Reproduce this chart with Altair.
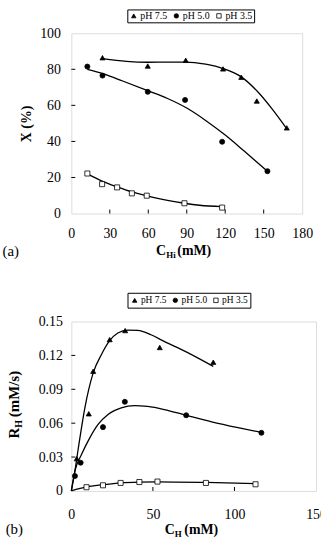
import altair as alt
import pandas as pd

FONT = "Liberation Serif"
SERIES = ["pH 7.5", "pH 5.0", "pH 3.5"]
SHAPES = ["triangle-up", "circle", "square"]
FILLS = ["black", "black", "white"]

# ---------------- panel (a): conversion X (%) vs C_Hi (mM) ----------------
a_x75 = [24.3, 59.6, 89.2, 118.3, 132.5, 144.6, 168]
a_y75 = [86.4, 81.8, 85.0, 80.2, 75.6, 62.4, 47.5]
a_x50 = [12.5, 24.3, 59.6, 88.7, 117.6, 152.9]
a_y50 = [81.5, 76.5, 67.5, 63.0, 39.8, 23.5]
a_x35 = [12.5, 24.0, 35.7, 47.2, 58.8, 88.2, 117.6]
a_y35 = [22.2, 16.3, 14.5, 11.2, 9.9, 5.7, 3.3]

a_fit75_x = [24.3, 42.9, 59.6, 76.4, 89.2, 104.7, 118.3, 132.5, 145.9, 156.2, 168]
a_fit75_y = [85.9, 84.4, 83.9, 84.0, 84.0, 82.8, 80.4, 75.8, 67.1, 58.3, 47.0]
a_fit50_x = [12.5, 25, 40, 60, 75, 90, 105, 120, 135, 152.9]
a_fit50_y = [80.0, 77.5, 73.5, 68.0, 63.8, 58.5, 51.5, 43.5, 34.5, 23.5]
a_fit35_x = [12.5, 24, 35.7, 47.2, 58.8, 75, 88.2, 100, 117.6]
a_fit35_y = [22.0, 18.0, 14.8, 12.0, 9.8, 7.3, 5.7, 4.6, 3.8]

a_xlabels = [0, 30, 60, 90, 120, 150, 180]
a_ylabels = [0, 20, 40, 60, 80, 100]
a_xticks = [30, 60, 90, 120, 150]
a_yticks = [20, 40, 60, 80]

# ---------------- panel (b): rate R_H (mM/s) vs C_H (mM) ----------------
b_x75 = [3.3, 10.7, 13.4, 23.5, 33.0, 54.2, 87.0]
b_y75 = [0.0286, 0.0683, 0.106, 0.134, 0.142, 0.127, 0.114]
b_x50 = [2.2, 5.7, 19.4, 32.8, 70.4, 116.5]
b_y50 = [0.0132, 0.025, 0.0565, 0.0789, 0.067, 0.0515]
b_x35 = [9.3, 19.4, 30.2, 41.7, 52.8, 82.5, 112.9]
b_y35 = [0.0033, 0.005, 0.0071, 0.0079, 0.0083, 0.0071, 0.0059]

b_fit75_x = [0, 2.0, 4.3, 8.3, 13.4, 18.4, 23.5, 28.5, 34.6, 40.7, 48.8, 56.9, 69.8, 87.0]
b_fit75_y = [0, 0.016, 0.038, 0.0736, 0.1045, 0.1206, 0.133, 0.1398, 0.1424, 0.1421, 0.1383, 0.1324, 0.1236, 0.1103]
b_fit50_x = [0, 2.2, 6.3, 11.3, 16.4, 22.5, 30.6, 38.7, 46.7, 56.9, 70.4, 86.0, 102.2, 116.5]
b_fit50_y = [0, 0.0177, 0.0324, 0.047, 0.0589, 0.0677, 0.0736, 0.0756, 0.0748, 0.0721, 0.067, 0.0612, 0.056, 0.0518]
b_fit35_x = [0, 9.3, 19.4, 30.2, 41.7, 52.8, 82.5, 112.9]
b_fit35_y = [0, 0.0035, 0.0055, 0.0072, 0.0079, 0.0081, 0.0075, 0.0064]

b_xlabels = [0, 50, 100, 150]
b_ylabels = [0, 0.03, 0.06, 0.09, 0.12, 0.15]
b_xticks = [50, 100]
b_yticks = [0.03, 0.06, 0.09, 0.12]


def frame(xs_list, ys_list):
    rows = []
    for s, xs, ys in zip(SERIES, xs_list, ys_list):
        for x, y in zip(xs, ys):
            rows.append({"s": s, "x": x, "y": y})
    return pd.DataFrame(rows)


ONE = pd.DataFrame({"k": [0]})


def label(txt, x, y, size=14, bold=True, angle=0):
    kw = dict(text=txt, font=FONT, fontSize=size, align="left",
              baseline="alphabetic", color="black")
    if bold:
        kw["fontWeight"] = "bold"
    if angle:
        kw["angle"] = angle
    return alt.Chart(ONE).mark_text(**kw).encode(x=alt.value(x), y=alt.value(y))


def panel(pts, fits, W, H, xdom, ydom, xlabels, ylabels, xticks, yticks,
          yfmt, ytitle, lx, ly, lfont, lpad, extras, xlabpad, ylabpad):
    xs = alt.Scale(domain=xdom, nice=False, zero=False)
    ys = alt.Scale(domain=ydom, nice=False, zero=False)
    xaxis = alt.Axis(values=xlabels, title=None, labelPadding=xlabpad,
                     format="d", labelFlush=False, labelOverlap=False)
    if ytitle:
        yaxis = alt.Axis(values=ylabels, title=ytitle, labelPadding=ylabpad,
                         format=yfmt, labelFlush=False, labelOverlap=False,
                         titlePadding=6)
    else:
        yaxis = alt.Axis(values=ylabels, title=None, labelPadding=ylabpad,
                         format=yfmt, labelFlush=False, labelOverlap=False)
    leg = alt.Legend(title=None, orient="none", legendX=lx, legendY=ly,
                     direction="horizontal", strokeColor="black", fillColor="white",
                     padding=lpad, labelFont=FONT, labelFontSize=lfont,
                     labelColor="black", symbolSize=20, symbolStrokeWidth=0.8,
                     columnPadding=4, labelOffset=1.5)
    X = alt.X("x:Q", scale=xs, axis=xaxis)
    Y = alt.Y("y:Q", scale=ys, axis=yaxis)
    lines = alt.Chart(fits).mark_line(color="black", strokeWidth=1.3,
                                      interpolate="monotone").encode(
        x=X, y=Y, detail="s:N")
    points = alt.Chart(pts).mark_point(filled=True, strokeWidth=0.8,
                                       opacity=1).encode(
        x=X, y=Y,
        shape=alt.Shape("s:N", scale=alt.Scale(domain=SERIES, range=SHAPES), legend=leg),
        fill=alt.Fill("s:N", scale=alt.Scale(domain=SERIES, range=FILLS), legend=leg),
        stroke=alt.Stroke("s:N", scale=alt.Scale(domain=SERIES, range=["black"] * 3), legend=leg),
        size=alt.value(26))
    xt = alt.Chart(pd.DataFrame({"x": xticks})).mark_rule(color="black", strokeWidth=1).encode(
        x=X, y=alt.value(H), y2=alt.value(H - 4))
    yt = alt.Chart(pd.DataFrame({"y": yticks})).mark_rule(color="black", strokeWidth=1).encode(
        y=Y, x=alt.value(0), x2=alt.value(4))
    return alt.layer(lines, points, xt, yt, *extras).properties(width=W, height=H)


# panel (a)
WA, HA = 233, 182
extras_a = [
    label("C", 85.5, 224),
    label("Hi", 95.8, 227, size=9),
    label("(mM)", 107, 224),
    label("(a)", -69.5, 225, size=15, bold=False),
]
chart_a = panel(frame([a_x75, a_x50, a_x35], [a_y75, a_y50, a_y35]),
                frame([a_fit75_x, a_fit50_x, a_fit35_x], [a_fit75_y, a_fit50_y, a_fit35_y]),
                WA, HA, [0, 180], [0, 100], a_xlabels, a_ylabels, a_xticks, a_yticks,
                "d", "X (%)", 56.5, -24, 10, 1.5, extras_a, 13, 11)

# panel (b)
WB, HB = 247, 171
extras_b = [
    label("C", 94.2, 214),
    label("H", 104.4, 217, size=9),
    label("(mM)", 114, 214),
    label("(b)", -66.3, 214, size=15, bold=False),
    label("R", -52.8, 118, size=15, angle=270),
    label("H", -49.8, 107.2, size=10, angle=270),
    label("(mM/s)", -52.8, 96.5, size=15, angle=270),
]
chart_b = panel(frame([b_x75, b_x50, b_x35], [b_y75, b_y50, b_y35]),
                frame([b_fit75_x, b_fit50_x, b_fit35_x], [b_fit75_y, b_fit50_y, b_fit35_y]),
                WB, HB, [0, 150], [0, 0.15], b_xlabels, b_ylabels, b_xticks, b_yticks,
                ".2~f", None, 56.7, -29, 9.5, 2.5, extras_b, 17, 9)

chart = alt.vconcat(chart_a, chart_b, spacing=31).resolve_scale(
    shape="independent", fill="independent", stroke="independent").resolve_legend(
    shape="independent", fill="independent", stroke="independent").properties(
    padding={"left": 2, "top": 6, "right": -6, "bottom": 0}
).configure_view(stroke="black", strokeWidth=1.3).configure(
    background="white"
).configure_axis(
    ticks=False, domain=False, grid=False, labelFont=FONT, labelFontSize=14,
    labelColor="black", titleFont=FONT, titleFontSize=14, titleFontWeight="bold",
    titleColor="black"
)

chart.save("out.html", embed_options={"renderer": "svg", "actions": False})
